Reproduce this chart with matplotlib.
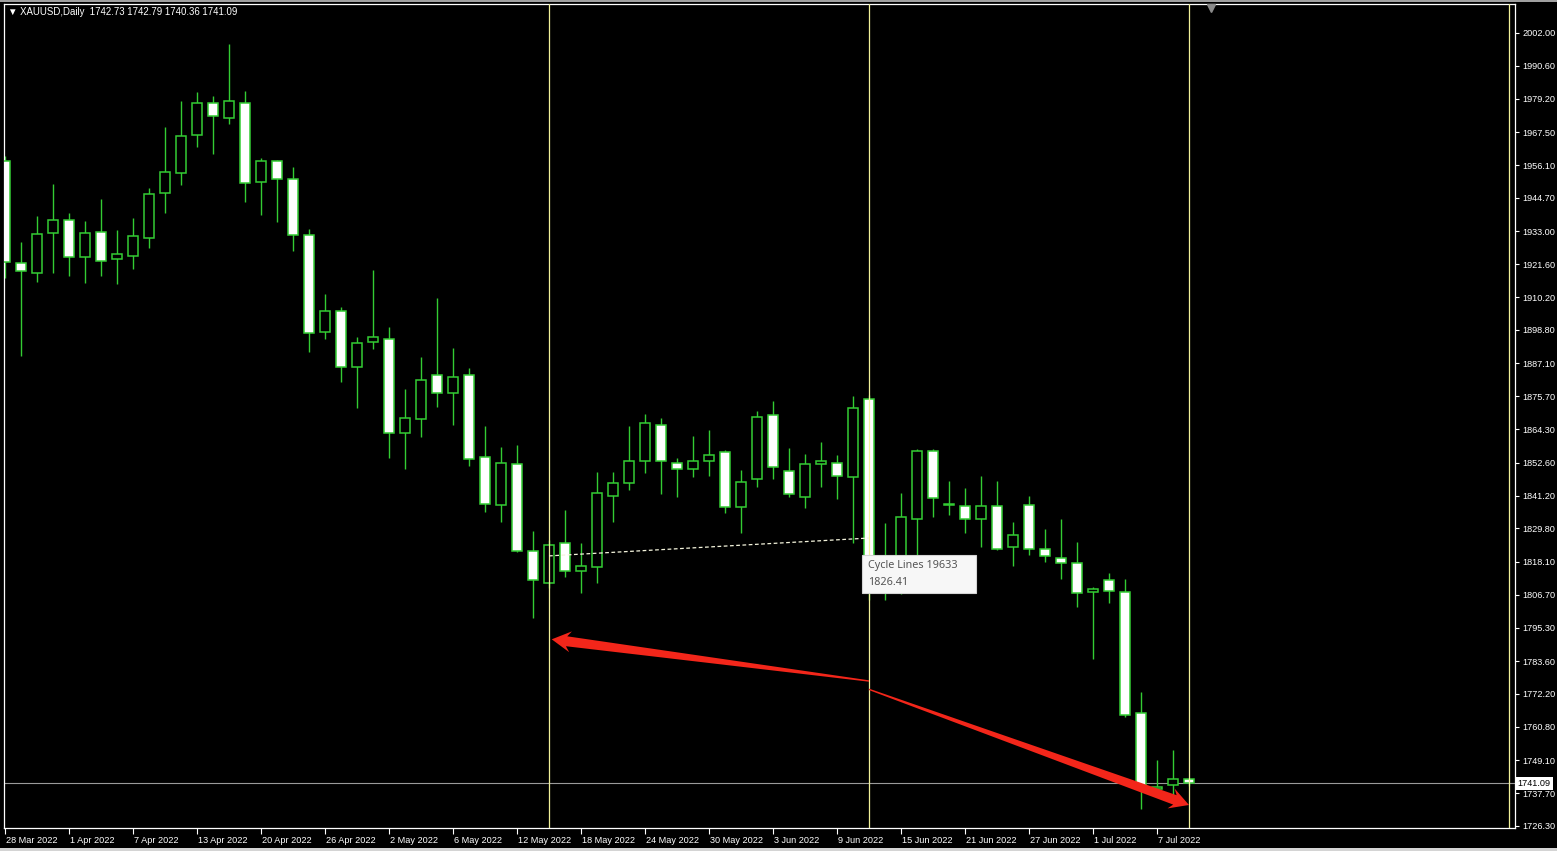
import numpy as np
import matplotlib
matplotlib.use('Agg')
import matplotlib.pyplot as plt
from matplotlib.patches import Polygon, Rectangle
from matplotlib.transforms import IdentityTransform, ScaledTranslation, blended_transform_factory

# XAUUSD daily bars, 28 Mar 2022 .. 11 Jul 2022
opens = [1957.6, 1922.1, 1918.7, 1932.6, 1936.9, 1924.0, 1932.7, 1923.5, 1924.6, 1930.8,
         1946.5, 1953.4, 1966.6, 1977.6, 1972.3, 1977.8, 1950.1, 1957.4, 1951.3, 1931.9,
         1898.2, 1905.2, 1886.0, 1894.7, 1895.5, 1862.8, 1867.8, 1883.0, 1876.7, 1883.0,
         1854.5, 1837.8, 1852.0, 1822.0, 1810.7, 1824.8, 1815.1, 1816.2, 1841.1, 1845.7,
         1853.3, 1865.6, 1852.6, 1850.5, 1853.3, 1856.2, 1837.1, 1846.8, 1869.1, 1849.8,
         1840.6, 1852.0, 1852.6, 1847.7, 1874.7, 1819.0, 1809.0, 1832.9, 1856.8, 1838.2,
         1837.7, 1832.9, 1837.7, 1823.2, 1838.0, 1822.5, 1819.4, 1817.6, 1807.5, 1811.9,
         1807.8, 1765.5, 1739.1, 1740.5, 1742.73]
highs = [1959.2, 1929.3, 1938.3, 1949.4, 1939.5, 1936.6, 1944.2, 1933.5, 1937.6, 1948.0,
         1969.2, 1978.4, 1981.4, 1980.0, 1998.2, 1981.8, 1958.4, 1957.8, 1955.3, 1934.0,
         1911.2, 1906.8, 1896.4, 1919.6, 1899.7, 1878.1, 1889.5, 1909.9, 1892.4, 1885.4,
         1865.4, 1858.0, 1858.8, 1828.9, 1825.7, 1836.2, 1824.6, 1849.3, 1849.3, 1865.4,
         1869.5, 1868.0, 1854.1, 1861.9, 1864.0, 1857.0, 1850.1, 1870.6, 1874.1, 1857.6,
         1855.6, 1859.8, 1855.2, 1875.8, 1876.0, 1831.7, 1842.2, 1857.3, 1857.3, 1846.2,
         1843.7, 1848.0, 1846.2, 1832.0, 1841.0, 1829.7, 1833.0, 1824.9, 1809.5, 1814.2,
         1812.2, 1772.8, 1749.2, 1752.7, 1742.79]
lows = [1916.8, 1889.8, 1915.5, 1918.7, 1917.5, 1915.0, 1917.5, 1914.7, 1920.1, 1927.4,
        1939.5, 1949.2, 1962.5, 1959.9, 1970.5, 1943.3, 1938.7, 1936.3, 1926.3, 1891.2,
        1895.5, 1880.8, 1871.7, 1892.1, 1854.4, 1850.3, 1861.4, 1872.1, 1865.7, 1851.6,
        1835.4, 1831.9, 1821.5, 1798.7, 1809.0, 1812.8, 1807.2, 1810.9, 1832.1, 1843.1,
        1849.1, 1841.7, 1840.6, 1847.7, 1848.1, 1835.0, 1828.3, 1844.1, 1846.9, 1840.6,
        1836.8, 1844.3, 1839.9, 1824.8, 1805.0, 1804.9, 1807.0, 1816.0, 1833.8, 1834.4,
        1828.3, 1823.4, 1822.4, 1816.8, 1820.5, 1818.2, 1812.1, 1802.5, 1784.4, 1803.9,
        1764.3, 1732.1, 1736.4, 1736.5, 1740.36]
closes = [1922.5, 1919.3, 1932.0, 1936.9, 1924.0, 1932.4, 1922.8, 1925.1, 1931.3, 1945.9,
          1953.6, 1966.1, 1977.6, 1973.0, 1978.4, 1949.7, 1957.4, 1951.1, 1931.9, 1897.6,
          1905.2, 1885.8, 1894.3, 1896.2, 1862.8, 1868.0, 1881.3, 1876.7, 1882.3, 1853.9,
          1838.1, 1852.4, 1821.9, 1811.8, 1823.9, 1815.0, 1816.7, 1842.0, 1845.4, 1853.3,
          1866.3, 1853.1, 1850.5, 1853.1, 1855.2, 1837.3, 1846.0, 1868.4, 1851.0, 1841.6,
          1852.0, 1853.2, 1847.9, 1871.5, 1819.0, 1808.8, 1833.6, 1856.7, 1840.2, 1838.0,
          1832.9, 1837.7, 1822.6, 1827.4, 1822.6, 1820.1, 1817.6, 1807.2, 1808.6, 1808.0,
          1764.9, 1739.2, 1740.0, 1742.7, 1741.09]

date_labels = ['28 Mar 2022', '1 Apr 2022', '7 Apr 2022', '13 Apr 2022', '20 Apr 2022',
               '26 Apr 2022', '2 May 2022', '6 May 2022', '12 May 2022', '18 May 2022',
               '24 May 2022', '30 May 2022', '3 Jun 2022', '9 Jun 2022', '15 Jun 2022',
               '21 Jun 2022', '27 Jun 2022', '1 Jul 2022', '7 Jul 2022']
price_ticks = [2002.00, 1990.60, 1979.20, 1967.50, 1956.10, 1944.70, 1933.00, 1921.60,
               1910.20, 1898.80, 1887.10, 1875.70, 1864.30, 1852.60, 1841.20, 1829.80,
               1818.10, 1806.70, 1795.30, 1783.60, 1772.20, 1760.80, 1749.10, 1737.70, 1726.30]

cycle_bars = [34, 54, 74, 94]
cycle_value = 1826.41
cycle_start = 1820.2
bid = 1741.09
# hand drawn arrows: (tail bar, tail price, tip bar, tip price)
arrows = [(54, 1776.7, 34.17, 1791.2), (54, 1773.8, 74, 1733.6)]

GREEN = '#33cc33'
FONT = ['Liberation Sans', 'DejaVu Sans']

fig = plt.figure(figsize=(15.57, 8.51), dpi=100, facecolor='black')
W, H = 1557.0, 851.0
ax = fig.add_axes([4 / W, (H - 828) / H, (1515 - 4) / W, (828 - 4) / H])
ax.set_facecolor('black')

n = len(opens)
x = np.arange(n)
o = np.array(opens); c = np.array(closes)
hi = np.array(highs); lo = np.array(lows)
bull = c >= o

ax.vlines(x, lo, hi, color=GREEN, lw=1.0, zorder=2)
body_lo = np.minimum(o, c)
body_h = np.maximum(np.abs(c - o), 0.15)
ax.bar(x[bull], body_h[bull], bottom=body_lo[bull], width=0.62, color='black',
       edgecolor=GREEN, linewidth=1.1, zorder=3)
ax.bar(x[~bull], body_h[~bull], bottom=body_lo[~bull], width=0.62, color='white',
       edgecolor=GREEN, linewidth=1.1, zorder=3)

# bid line
ax.axhline(bid, color='#9a9a9a', lw=0.8, zorder=1.5)

# cycle lines
for b in cycle_bars:
    ax.axvline(b, color='#f2f29a', lw=0.9, zorder=4)
ax.plot([cycle_bars[0], cycle_bars[1]], [cycle_start, cycle_value], color='#f4f4dc',
        lw=0.9, ls=(0, (3, 2)), zorder=5)

ax.set_xlim(-0.0625, 94.375)
ax.set_ylim(1725.6, 2012.08)

# tapered red arrows, built in pixel space
def red_arrow(x0, y0, x1, y1):
    p0 = ax.transData.transform((x0, y0))
    p1 = ax.transData.transform((x1, y1))
    d = p1 - p0
    u = d / np.hypot(*d)
    nv = np.array([-u[1], u[0]])
    base = p1 - u * 15
    pts = [p0 + nv * 0.7, base + nv * 5.0, base - u * 4 + nv * 10.5, p1,
           base - u * 4 - nv * 10.5, base - nv * 5.0, p0 - nv * 0.7]
    ax.add_patch(Polygon(pts, closed=True, transform=IdentityTransform(),
                         fc='#f3261a', ec='none', zorder=6))

for a in arrows:
    red_arrow(*a)

# tooltip
ax.add_patch(Rectangle((53.56, 1807.3), 7.13, 13.2, fc='#f7f7f7', ec='#d4d4d4',
                       lw=0.8, zorder=7))
ax.text(53.94, 1817.0, 'Cycle Lines 19633', color='#555555', fontsize=7.8,
        family=['Noto Sans', 'DejaVu Sans'], va='center', ha='left', zorder=8)
ax.text(53.94, 1811.1, '%.2f' % cycle_value, color='#555555', fontsize=7.8,
        family=['Noto Sans', 'DejaVu Sans'], va='center', ha='left', zorder=8)

# axes styling
for s in ax.spines.values():
    s.set_color('white')
    s.set_linewidth(0.9)

ax.yaxis.tick_right()
ax.set_yticks(price_ticks)
ax.set_yticklabels(['%.2f' % v for v in price_ticks])
ax.tick_params(axis='y', colors='white', length=3, width=0.8, pad=2.5,
               labelsize=6.6, labelcolor='white')

ax.set_xticks(np.arange(0, 4 * len(date_labels), 4))
ax.set_xticklabels(date_labels)
ax.tick_params(axis='x', colors='white', length=4, width=0.8, pad=1.5,
               labelsize=6.6, labelcolor='white')
for lab in ax.get_xticklabels():
    lab.set_ha('left')
    lab.set_transform(lab.get_transform() + ScaledTranslation(1.0 / 100, 0, fig.dpi_scale_trans))
for lab in ax.get_xticklabels() + ax.get_yticklabels():
    lab.set_family(FONT)

# bid label box on the price scale
bt = blended_transform_factory(ax.transAxes, ax.transData)
ax.text(1.0015, bid, '%.2f' % bid, transform=bt, color='black', fontsize=6.6,
        family=FONT, va='center', ha='left', zorder=9, clip_on=False,
        bbox=dict(boxstyle='square,pad=0.25', fc='white', ec='none'))

# chart shift marker
tt = blended_transform_factory(ax.transData, ax.transAxes)
ax.plot([75.375], [0.9955], marker='v', color='#8a8a8a', markersize=5.5,
        transform=tt, clip_on=False, zorder=9)

# window frame bits
fig.patches.append(Rectangle((0, 1 - 2 / H), 1, 2 / H, transform=fig.transFigure,
                             fc='#a0a0a0', ec='none'))
fig.patches.append(Rectangle((0, 0), 1, 3 / H, transform=fig.transFigure,
                             fc='#d4d4d4', ec='none'))

fig.text(8 / W, 1 - 12 / H, '\u25bc XAUUSD,Daily  1742.73 1742.79 1740.36 1741.09',
         color='white', fontsize=6.9, family=FONT, va='center', ha='left')

fig.savefig('out.png', dpi=100, facecolor='black')
